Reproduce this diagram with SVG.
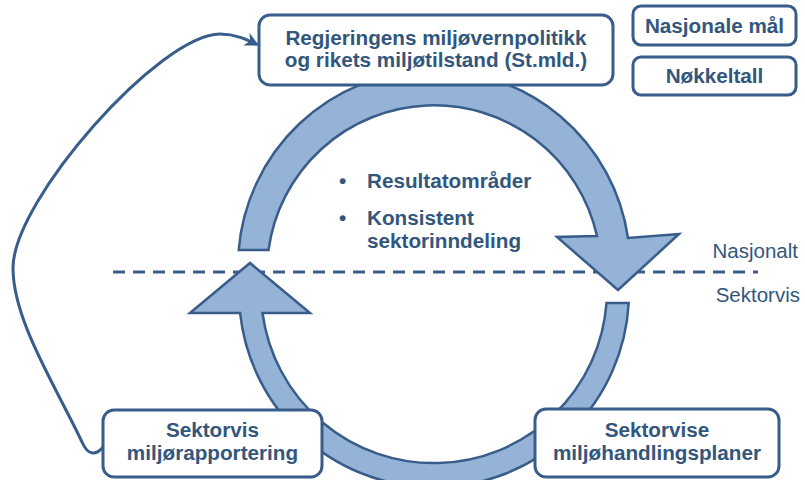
<svg xmlns="http://www.w3.org/2000/svg" width="805" height="480" viewBox="0 0 805 480">
<defs>
<style>
.box{fill:#ffffff;stroke:#385d8a;stroke-width:3}
.ring{fill:#95b3d7;stroke:#385d8a;stroke-width:2.5;stroke-linejoin:miter}
.t{font-family:"Liberation Sans",Arial,sans-serif;font-weight:bold;font-size:20.7px;fill:#33567c;text-anchor:middle}
.tl{font-family:"Liberation Sans",Arial,sans-serif;font-weight:bold;font-size:20.7px;fill:#33567c}
.tr{font-family:"Liberation Sans",Arial,sans-serif;font-size:20.5px;fill:#33567c;text-anchor:end}
.conn{fill:none;stroke:#385d8a;stroke-width:3}
</style>
<marker id="ah" viewBox="0 0 10 10" refX="8.5" refY="5" markerUnits="userSpaceOnUse" markerWidth="15" markerHeight="14" orient="auto">
<path d="M0,0 L10,5 L0,10 L3,5 z" fill="#385d8a"/>
</marker>
</defs>
<g id="divider">
<line x1="113" y1="272" x2="758" y2="272" stroke="#385d8a" stroke-width="3" stroke-dasharray="12 8"/>
</g>
<g id="cycle">
<path class="ring" d="M238.7,250 A196 196 0 0 1 628,238 L679,234 L618,290 L557,237 L597,236 A167 167 0 0 0 268.5,250 Z"/>
<path class="ring" d="M606.5,303 L628.7,303 A195 195 0 0 1 240.1,313 L190,313 L250,263 L310,313 L262.5,313 A173 173 0 0 0 606.5,303 Z"/>
</g>
<g id="connectors">
<path class="conn" d="M104,446 C96,456 88,456 82,442 C55,385 13,320 13,268 C13,200 160,34 220,34 C236,34 248,40 257,44.5" marker-end="url(#ah)"/>
</g>
<g id="node-stmld">
<rect class="box" x="259" y="15" width="354" height="70" rx="11"/>
<text class="t" x="436" y="45">Regjeringens miljøvernpolitikk</text>
<text class="t" x="436" y="67">og rikets miljøtilstand (St.mld.)</text>
</g>
<g id="node-nasjonale">
<rect class="box" x="633" y="6" width="163" height="39" rx="8"/>
<text class="t" x="714.5" y="33">Nasjonale mål</text>
</g>
<g id="node-nokkeltall">
<rect class="box" x="633" y="57" width="163" height="38" rx="8"/>
<text class="t" x="714.5" y="83">Nøkkeltall</text>
</g>
<g id="bullets">
<text class="tl" x="339" y="188">•</text>
<text class="tl" x="367" y="188">Resultatområder</text>
<text class="tl" x="339" y="225">•</text>
<text class="tl" x="367" y="225">Konsistent</text>
<text class="tl" x="367" y="248">sektorinndeling</text>
</g>
<g id="labels">
<text class="tr" x="798" y="258">Nasjonalt</text>
<text class="tr" x="800" y="302">Sektorvis</text>
</g>
<g id="node-rapportering">
<rect class="box" x="103" y="410" width="219" height="67" rx="11"/>
<text class="t" x="212.5" y="437">Sektorvis</text>
<text class="t" x="212.5" y="460">miljørapportering</text>
</g>
<g id="node-handlingsplaner">
<rect class="box" x="535" y="409" width="244" height="68" rx="11"/>
<text class="t" x="657" y="437">Sektorvise</text>
<text class="t" x="657" y="460">miljøhandlingsplaner</text>
</g>
</svg>
